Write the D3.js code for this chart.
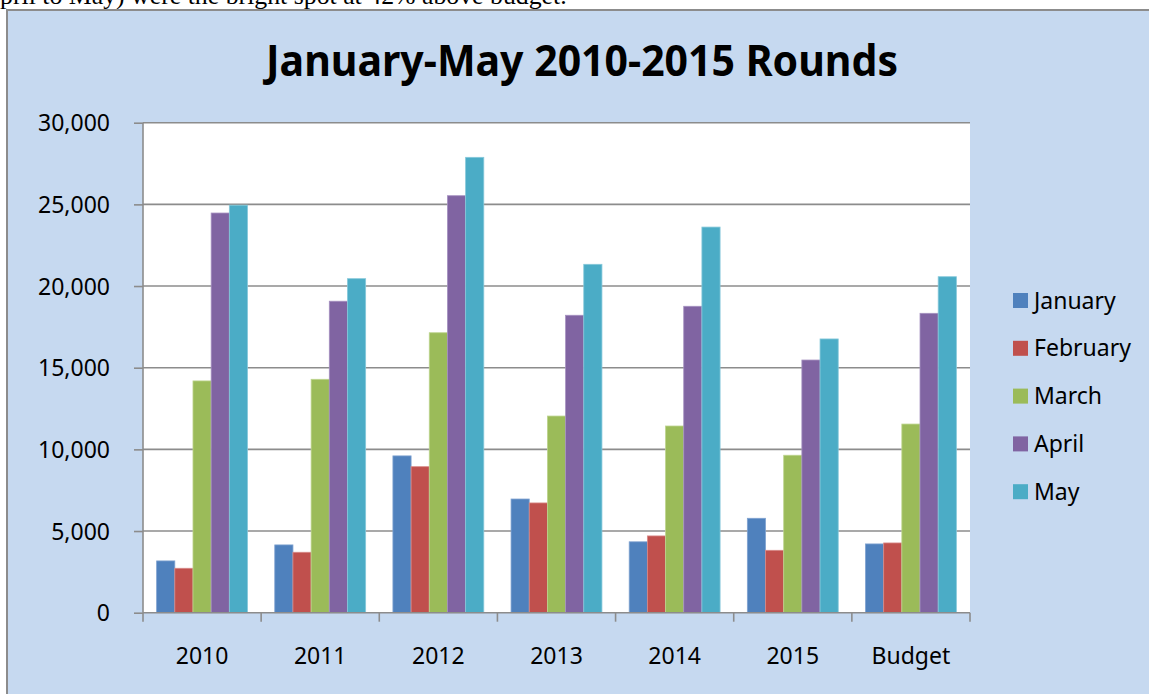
<!DOCTYPE html>
<html>
<head>
<meta charset="utf-8">
<script src="https://cdn.jsdelivr.net/npm/d3@7"></script>
<style>
  body { margin: 0; background: #fff; }
  svg { display: block; }
</style>
</head>
<body>
<script>
// data
var years = ["2010", "2011", "2012", "2013", "2014", "2015", "Budget"]
var months = ["January", "February", "March", "April", "May"]
var january  = [3170, 4150, 9600, 6960, 4340, 5780, 4210]
var february = [2720, 3700, 8940, 6720, 4700, 3820, 4270]
var march    = [14190, 14290, 17140, 12040, 11430, 9640, 11550]
var april    = [24470, 19070, 25530, 18210, 18760, 15470, 18330]
var may      = [24950, 20450, 27880, 21330, 23610, 16760, 20570]
var yTicks = [0, 5000, 10000, 15000, 20000, 25000, 30000]
var colors = ["#4f81bd", "#c0504d", "#9bbb59", "#8064a2", "#4bacc6"]
var strokes = ["#7fa2d0", "#d88a88", "#bdd48e", "#a591c0", "#86c8da"]

var series = [january, february, march, april, may]
var table = years.map((y, i) => ({year: y, values: months.map((m, j) => ({month: m, value: series[j][i]}))}))

var width = 1149, height = 694
var plot = {left: 143, right: 970, top: 122.7, bottom: 612.7}

const svg = d3.select("body").append("svg")
    .attr("width", width)
    .attr("height", height)
    .attr("font-family", "'Noto Sans', sans-serif")

// leftover line of the document above the chart
svg.append("text")
    .attr("x", 0)
    .attr("y", 4)
    .attr("font-family", "'Liberation Serif', serif")
    .attr("font-size", 25.8)
    .text("pril to May) were the bright spot at 42% above budget.")

// chart area
svg.append("rect")
    .attr("x", 7).attr("y", 10)
    .attr("width", 1160).attr("height", 700)
    .attr("fill", "#c6d9f0")
    .attr("stroke", "#8c8c8c")
    .attr("stroke-width", 2)

svg.append("rect")
    .attr("x", plot.left).attr("y", plot.top)
    .attr("width", plot.right - plot.left)
    .attr("height", plot.bottom - plot.top)
    .attr("fill", "#fff")

// scales
var x0 = d3.scaleBand().domain(years).range([plot.left, plot.right])
var x1 = d3.scaleBand().domain(months).range([0, x0.bandwidth()]).paddingInner(0).paddingOuter(0.75)
var y = d3.scaleLinear().domain([0, 30000]).range([plot.bottom, plot.top])
var color = d3.scaleOrdinal(months, colors)
var edge = d3.scaleOrdinal(months, strokes)

// gridlines
svg.append("g")
    .selectAll("line")
    .data(yTicks.slice(1))
    .join("line")
        .attr("x1", plot.left).attr("x2", plot.right)
        .attr("y1", d => y(d)).attr("y2", d => y(d))
        .attr("stroke", "#8c8c8c")
        .attr("stroke-width", 1.6)

// bars
svg.append("g")
    .selectAll("g")
    .data(table)
    .join("g")
        .attr("transform", d => `translate(${x0(d.year)},0)`)
    .selectAll("rect")
    .data(d => d.values)
    .join("rect")
        .attr("x", d => x1(d.month))
        .attr("y", d => y(d.value))
        .attr("width", x1.bandwidth())
        .attr("height", d => y(0) - y(d.value))
        .attr("fill", d => color(d.month))
        .attr("stroke", d => edge(d.month))
        .attr("stroke-width", 0.8)

// y axis
const yAxis = g => g
    .attr("transform", `translate(${plot.left},0)`)
    .call(d3.axisLeft(y).tickValues(yTicks).tickSize(9).tickPadding(24).tickFormat(d3.format(",")))
    .call(g => g.select(".domain").attr("stroke", "#8c8c8c").attr("stroke-width", 1.6).attr("d", `M0,${plot.top}V${plot.bottom}`))
    .call(g => g.selectAll(".tick line").attr("stroke", "#8c8c8c").attr("stroke-width", 1.6))
    .call(g => g.selectAll(".tick text").attr("font-size", 23).attr("fill", "#000").attr("dy", "0.36em").attr("font-family", "'Noto Sans', sans-serif"))
svg.append("g").call(yAxis)

// x axis, ticks sit on the category boundaries
svg.append("g")
    .attr("transform", `translate(0,${plot.bottom})`)
    .call(g => g.append("line")
        .attr("x1", plot.left).attr("x2", plot.right)
        .attr("stroke", "#8c8c8c").attr("stroke-width", 1.6))
    .call(g => g.selectAll(".bound")
        .data(years.map(d => x0(d)).concat([x0(years[years.length - 1]) + x0.bandwidth()]))
        .join("line")
            .attr("class", "bound")
            .attr("x1", d => d).attr("x2", d => d)
            .attr("y1", 0).attr("y2", 9)
            .attr("stroke", "#8c8c8c").attr("stroke-width", 1.6))
    .call(g => g.selectAll(".lab")
        .data(years)
        .join("text")
            .attr("class", "lab")
            .attr("x", d => x0(d) + x0.bandwidth() / 2)
            .attr("y", 51)
            .attr("text-anchor", "middle")
            .attr("font-size", 23)
            .text(d => d))

// title
svg.append("text")
    .attr("x", 582)
    .attr("y", 76)
    .attr("text-anchor", "middle")
    .attr("font-size", 43)
    .attr("font-weight", "bold")
    .attr("textLength", 632)
    .attr("lengthAdjust", "spacingAndGlyphs")
    .text("January-May 2010-2015 Rounds")

// legend
var legend = svg.append("g")
    .attr("transform", "translate(1013,300.5)")
    .selectAll("g")
    .data(months)
    .join("g")
        .attr("transform", (d, i) => `translate(0,${i * 47.8})`)
legend.append("rect")
    .attr("x", 0).attr("y", -7.5)
    .attr("width", 15).attr("height", 15)
    .attr("fill", d => color(d))
legend.append("text")
    .attr("x", 21)
    .attr("y", 8)
    .attr("font-size", 23)
    .text(d => d)
</script>
</body>
</html>
